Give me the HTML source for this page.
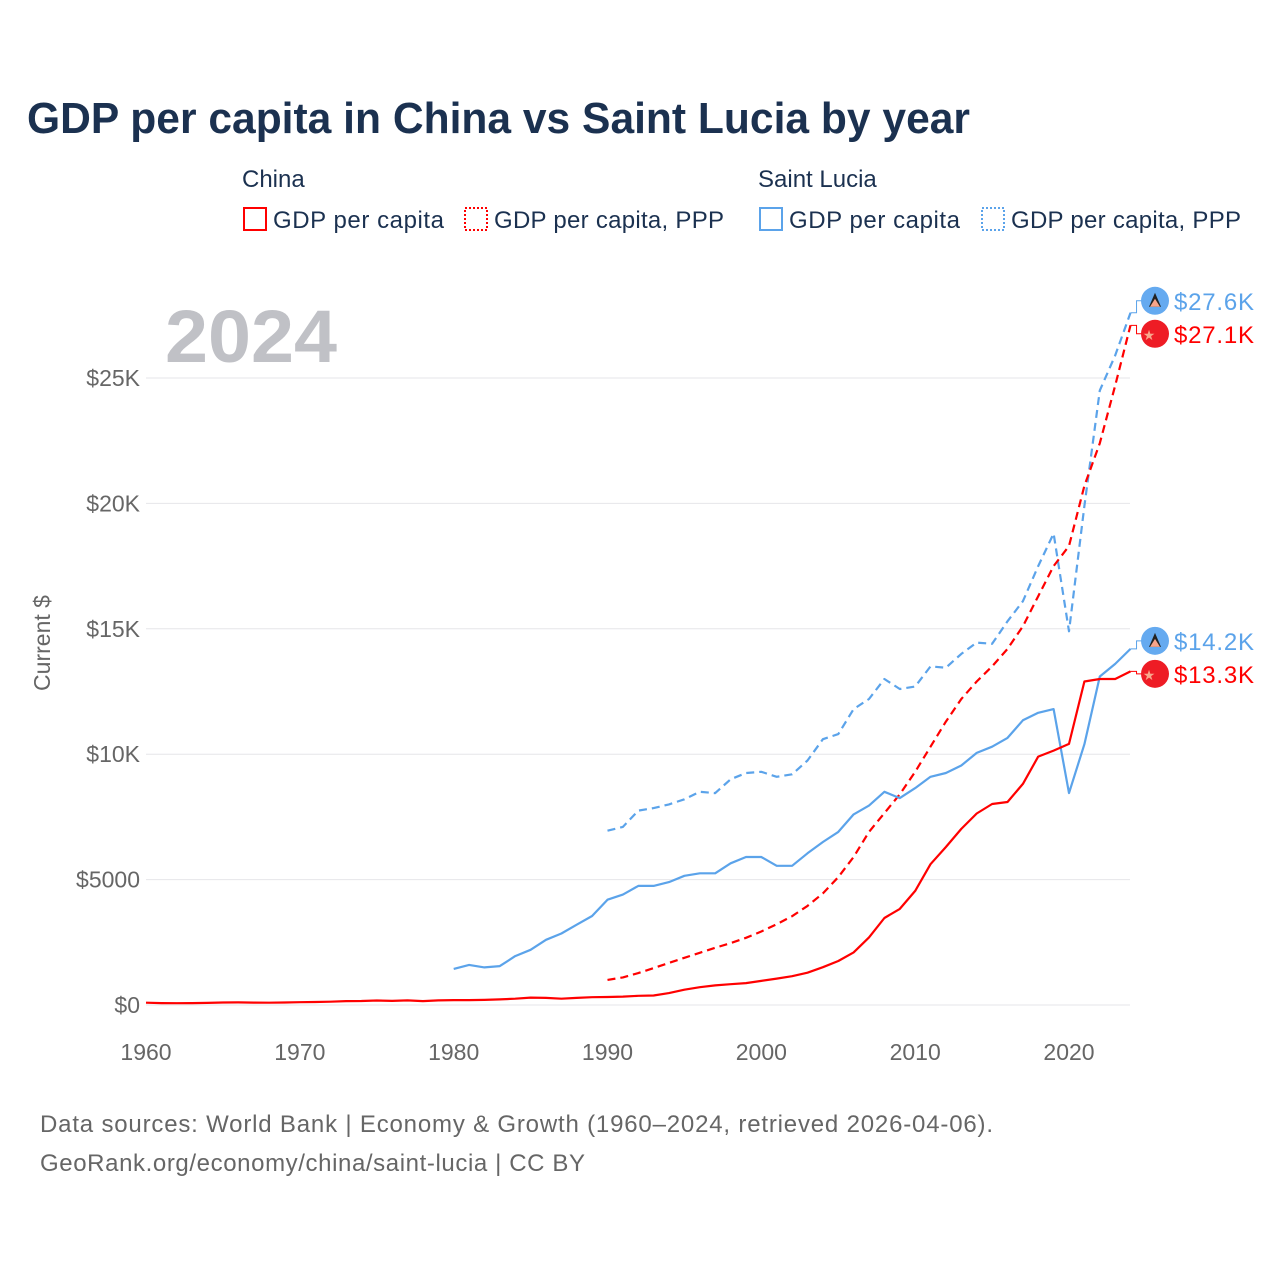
<!DOCTYPE html>
<html><head><meta charset="utf-8">
<style>
html,body{margin:0;padding:0;background:#fff;}
body{width:1280px;height:1280px;position:relative;overflow:hidden;font-family:"Liberation Sans",sans-serif;}
</style></head>
<body>
<svg id="chart" width="1280" height="1280" xmlns="http://www.w3.org/2000/svg" style="position:absolute;left:0;top:0;font-family:'Liberation Sans',sans-serif;">
<text x="27" y="133" font-size="44" font-weight="bold" fill="#1b3150" textLength="943" lengthAdjust="spacingAndGlyphs">GDP per capita in China vs Saint Lucia by year</text>
<g font-size="24" fill="#1b3150">
  <text x="242" y="187">China</text>
  <text x="758" y="187">Saint Lucia</text>
  <g><rect x="244" y="208" width="22" height="22" fill="none" stroke="#f00" stroke-width="2"/><text x="273" y="228" textLength="171">GDP per capita</text></g>
  <g><rect x="465" y="208" width="22" height="22" fill="none" stroke="#f00" stroke-width="2" stroke-dasharray="2,2"/><text x="494" y="228" textLength="230">GDP per capita, PPP</text></g>
  <g><rect x="760" y="208" width="22" height="22" fill="none" stroke="#5ba3ea" stroke-width="2"/><text x="789" y="228" textLength="171">GDP per capita</text></g>
  <g><rect x="982" y="208" width="22" height="22" fill="none" stroke="#5ba3ea" stroke-width="2" stroke-dasharray="2,2"/><text x="1011" y="228" textLength="230">GDP per capita, PPP</text></g>
</g>
<text x="165" y="362" font-size="74" font-weight="bold" fill="#c0c1c6" textLength="172" lengthAdjust="spacingAndGlyphs">2024</text>
<text transform="translate(50,643) rotate(-90)" text-anchor="middle" font-size="23" fill="#666">Current $</text>
<g id="grid"></g><g id="axes"></g><g id="series"></g><g id="labels"></g>
<text x="40" y="1132" font-size="24" fill="#666" textLength="953">Data sources: World Bank | Economy &amp; Growth (1960–2024, retrieved 2026-04-06).</text>
<text x="40" y="1171" font-size="24" fill="#666" textLength="545">GeoRank.org/economy/china/saint-lucia | CC BY</text>
</svg>
<script>
const xTicks=[1960,1970,1980,1990,2000,2010,2020];
const yTicks=[0,5000,10000,15000,20000,25000];
const yTickLabels=["$0","$5000","$10K","$15K","$20K","$25K"];
const chinaGdpStart=1960;
const chinaGdp=[90,75,70,74,85,98,104,96,91,100,113,119,132,157,160,178,165,185,156,183,195,197,203,225,250,294,282,252,284,311,318,333,366,377,473,610,709,782,829,873,959,1053,1149,1289,1509,1753,2099,2694,3468,3832,4550,5614,6301,7020,7636,8016,8094,8817,9905,10144,10409,12900,13000,13000,13300];
const chinaPppStart=1990;
const chinaPpp=[1000,1100,1270,1470,1680,1880,2080,2280,2470,2680,2930,3220,3540,3950,4450,5100,5900,6900,7650,8400,9300,10300,11300,12200,12900,13500,14200,15100,16300,17500,18300,20700,22400,24700,27100];
const stluGdpStart=1980;
const stluGdp=[1440,1600,1500,1550,1950,2200,2600,2850,3200,3550,4200,4400,4750,4750,4900,5150,5250,5250,5650,5900,5900,5550,5550,6050,6500,6900,7600,7950,8500,8250,8650,9100,9250,9550,10050,10300,10650,11350,11650,11800,8450,10400,13100,13600,14200];
const stluPppStart=1990;
const stluPpp=[6950,7100,7750,7850,8000,8200,8500,8450,9000,9250,9300,9100,9200,9750,10600,10800,11800,12200,13000,12600,12700,13500,13450,14000,14450,14400,15300,16100,17500,18800,14900,19900,24500,25900,27600];
const endLabels=["$27.6K","$27.1K","$14.2K","$13.3K"];

const NS="http://www.w3.org/2000/svg";
const X=y=>146+(y-1960)*(1069-146)/60;
const Y=v=>1005-v*(1005-378)/25000;
function mk(tag,attrs,parent){const e=document.createElementNS(NS,tag);for(const k in attrs)e.setAttribute(k,attrs[k]);parent.appendChild(e);return e;}
const grid=document.getElementById('grid'),axes=document.getElementById('axes'),series=document.getElementById('series'),labels=document.getElementById('labels');
yTicks.forEach((v,i)=>{
  const l=mk('line',{x1:146,x2:1130,y1:Y(v),y2:Y(v),stroke:'#e6e6e9','stroke-width':1},grid);
  
  
  const t=mk('text',{x:140,y:Y(v)+8,'text-anchor':'end','font-size':23,fill:'#666'},axes);
  t.textContent=yTickLabels[i];
  
  
});
xTicks.forEach(v=>{
  const t=mk('text',{x:X(v),y:1060,'text-anchor':'middle','font-size':23,fill:'#666'},axes);
  t.textContent=v;
  
  
});
function line(arr,start,color,dash,name){
  const pts=arr.map((v,i)=>X(start+i).toFixed(1)+','+Y(v).toFixed(1)).join(' ');
  const p=mk('polyline',{points:pts,fill:'none',stroke:color,'stroke-width':2.2,'stroke-dasharray':dash,'stroke-linejoin':'round'},series);
  
  
}
line(stluPpp,stluPppStart,'#5ba3ea','8,5','line-saint-lucia-ppp');
line(chinaPpp,chinaPppStart,'#f00','8,5','line-china-ppp');
line(stluGdp,stluGdpStart,'#5ba3ea','none','line-saint-lucia-gdp');
line(chinaGdp,chinaGdpStart,'#f00','none','line-china-gdp');
const ends=[
  {v:stluPpp[stluPpp.length-1],c:'#5ba3ea',f:'stlu'},
  {v:chinaPpp[chinaPpp.length-1],c:'#f00',f:'cn'},
  {v:stluGdp[stluGdp.length-1],c:'#5ba3ea',f:'stlu'},
  {v:chinaGdp[chinaGdp.length-1],c:'#f00',f:'cn'}];
let prev=-1e9;
ends.forEach((e,i)=>{
  const ly=Y(e.v);let py=Math.max(ly-(i===0?12:8),prev+33);prev=py;
  const g=mk('g',{},labels);
  
  
  mk('polyline',{points:`${X(2024)},${ly} ${X(2024)+6},${ly} ${X(2024)+6},${py} 1142,${py}`,fill:'none',stroke:e.c,'stroke-width':1},g);
  mk('circle',{cx:1155,cy:py,r:14,fill:e.c==='#f00'?'#ee1c25':'#65aaf0'},g);
  if(e.f==='stlu'){mk('polygon',{points:`1155,${py-8} 1161,${py+6} 1149,${py+6}`,fill:'#222'},g);mk('polygon',{points:`1155,${py-2} 1160,${py+6} 1150,${py+6}`,fill:'#f7a48a'},g);}
  else{const s=mk('text',{x:1149,y:py+6,'font-size':14,fill:'#f9a78c','text-anchor':'middle'},g);s.textContent='★';}
  const t=mk('text',{x:1174,y:py+9,'font-size':24,fill:e.c==='#f00'?'#f00':'#5ba3ea',textLength:80},g);t.textContent=endLabels[i];
});
</script>
</body></html>
